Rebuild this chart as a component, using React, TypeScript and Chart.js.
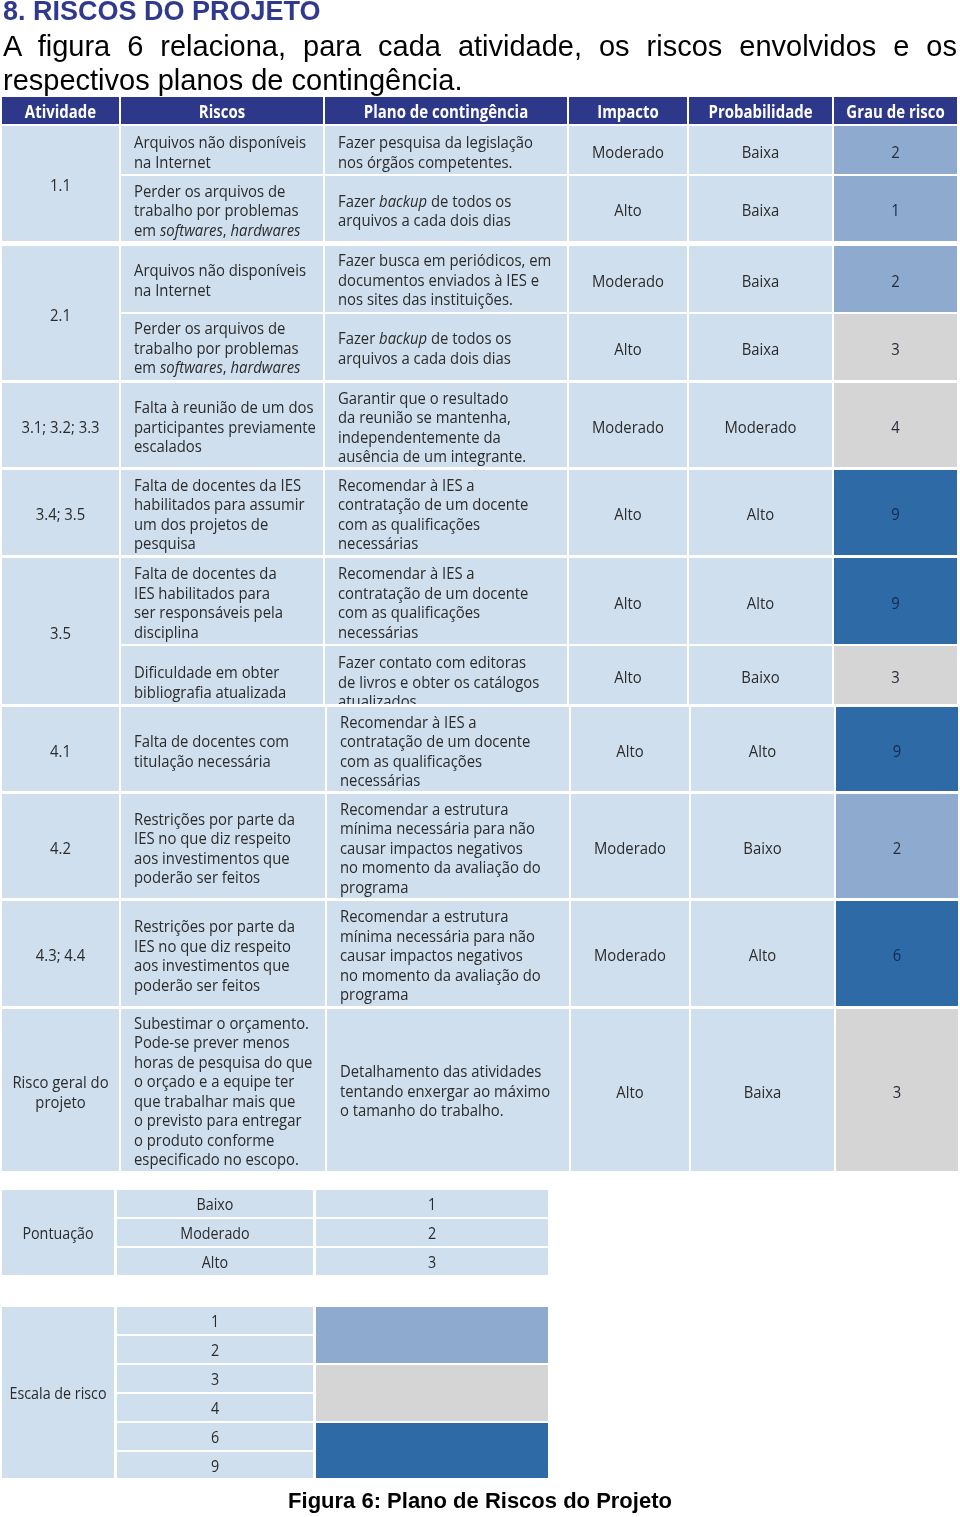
import React, { useEffect, useRef } from "react";
import { Chart, registerables } from "chart.js";

Chart.register(...registerables);

// ---------------- DATA ----------------
const headers = ["Atividade", "Riscos", "Plano de contingência", "Impacto", "Probabilidade", "Grau de risco"];

const activities = ["1.1", "2.1", "3.1; 3.2; 3.3", "3.4; 3.5", "3.5", "4.1", "4.2", "4.3; 4.4", "Risco geral do\nprojeto"];
const risksPerActivity = [2, 2, 1, 1, 2, 1, 1, 1, 1];

const risks = [
  "Arquivos não disponíveis\nna Internet",
  "Perder os arquivos de\ntrabalho por problemas\nem _softwares_, _hardwares_",
  "Arquivos não disponíveis\nna Internet",
  "Perder os arquivos de\ntrabalho por problemas\nem _softwares_, _hardwares_",
  "Falta à reunião de um dos\nparticipantes previamente\nescalados",
  "Falta de docentes da IES\nhabilitados para assumir\num dos projetos de\npesquisa",
  "Falta de docentes da\nIES habilitados para\nser responsáveis pela\ndisciplina",
  "Dificuldade em obter\nbibliografia atualizada",
  "Falta de docentes com\ntitulação necessária",
  "Restrições por parte da\nIES no que diz respeito\naos investimentos que\npoderão ser feitos",
  "Restrições por parte da\nIES no que diz respeito\naos investimentos que\npoderão ser feitos",
  "Subestimar o orçamento.\nPode-se prever menos\nhoras de pesquisa do que\no orçado e a equipe ter\nque trabalhar mais que\no previsto para entregar\no produto conforme\nespecificado no escopo.",
];

const plans = [
  "Fazer pesquisa da legislação\nnos órgãos competentes.",
  "Fazer _backup_ de todos os\narquivos a cada dois dias",
  "Fazer busca em periódicos, em\ndocumentos enviados à IES e\nnos sites das instituições.",
  "Fazer _backup_ de todos os\narquivos a cada dois dias",
  "Garantir que o resultado\nda reunião se mantenha,\nindependentemente da\nausência de um integrante.",
  "Recomendar à IES a\ncontratação de um docente\ncom as qualificações\nnecessárias",
  "Recomendar à IES a\ncontratação de um docente\ncom as qualificações\nnecessárias",
  "Fazer contato com editoras\nde livros e obter os catálogos\natualizados",
  "Recomendar à IES a\ncontratação de um docente\ncom as qualificações\nnecessárias",
  "Recomendar a estrutura\nmínima necessária para não\ncausar impactos negativos\nno momento da avaliação do\nprograma",
  "Recomendar a estrutura\nmínima necessária para não\ncausar impactos negativos\nno momento da avaliação do\nprograma",
  "Detalhamento das atividades\ntentando enxergar ao máximo\no tamanho do trabalho.",
];

const impacts = ["Moderado", "Alto", "Moderado", "Alto", "Moderado", "Alto", "Alto", "Alto", "Alto", "Moderado", "Moderado", "Alto"];
const probabilities = ["Baixa", "Baixa", "Baixa", "Baixa", "Moderado", "Alto", "Alto", "Baixo", "Alto", "Baixo", "Alto", "Baixa"];
const riskGrades = [2, 1, 2, 3, 4, 9, 9, 3, 9, 2, 6, 3];

const scoreTitle = "Pontuação";
const scoreLabels = ["Baixo", "Moderado", "Alto"];
const scoreValues = [1, 2, 3];

const scaleTitle = "Escala de risco";
const scaleValues = [1, 2, 3, 4, 6, 9];

// ---------------- LAYOUT (page coordinates) ----------------
const COLS = [
  [2, 119],
  [121, 323],
  [325, 567],
  [569, 687],
  [689, 832],
  [834, 957],
];
const LOWER_FROM = 8; // sub-rows from this index are shifted slightly right
const LOWER_SHIFT = 2;
const HEADER_Y = [97, 124];
const SUBROW_Y = [
  [126, 174],
  [176, 241],
  [246, 312],
  [314, 380],
  [383, 467],
  [470, 555],
  [558, 644],
  [646, 704],
  [707, 791],
  [794, 898],
  [901, 1006],
  [1009, 1171],
];
const SUBROW_TEXT_DY = [2, 2, 1, 1, 2, 1.5, 1.5, 7, 2, 2, 2, 1];
const SMALL_COLS = [
  [2, 114],
  [117, 313],
  [316, 548],
];
const SCORE_ROWS = [
  [1190, 1217],
  [1219, 1246],
  [1248, 1275],
];
const SCALE_ROWS = [
  [1307, 1334],
  [1336, 1363],
  [1365, 1392],
  [1394, 1421],
  [1423, 1450],
  [1452, 1478],
];

// ---------------- STYLE ----------------
const HEADER_BG = "#2d388b";
const CELL_BG = "#d0dfee";
const TEXT = "#2b2b2b";
const FONT_FAMILY = "'Open Sans', 'Noto Sans', sans-serif";
const BODY_SIZE = 16.5;
const LINE_H = 19.5;

function gradeColor(g: number) {
  if (g <= 2) return "#8eaacf";
  if (g <= 4) return "#d5d5d5";
  return "#2e6aa5";
}
function gradeTextColor(g: number) {
  return g >= 6 ? "#122a52" : "#262c3e";
}

type Seg = { t: string; it: boolean };
function parseLine(line: string): Seg[] {
  const parts = line.split(/(_[^_]+_)/).filter((p) => p.length);
  return parts.map((p) => (p.startsWith("_") && p.endsWith("_") ? { t: p.slice(1, -1), it: true } : { t: p, it: false }));
}

const tablePlugin = {
  id: "riskTable",
  afterDraw(chart: any) {
    const ctx: CanvasRenderingContext2D = chart.ctx;
    const xs = chart.scales.x;
    const ys = chart.scales.y;
    const X = (v: number) => xs.getPixelForValue(v);
    const Y = (v: number) => ys.getPixelForValue(v);

    const rect = (x0: number, y0: number, x1: number, y1: number, color: string) => {
      ctx.fillStyle = color;
      ctx.fillRect(X(x0), Y(y0), X(x1) - X(x0), Y(y1) - Y(y0));
    };

    const fontOf = (weight: string, italic: boolean, size: number) =>
      `${italic ? "italic " : ""}${weight} ${size}px ${FONT_FAMILY}`;

    const calib = (weight: string, size: number, ref: string, target: number) => {
      ctx.font = fontOf(weight, false, size);
      return target / ctx.measureText(ref).width;
    };

    const bodySx = calib("normal", BODY_SIZE, "Arquivos não disponíveis", 172);
    const headSx = calib("bold", 17, "Probabilidade", 104);
    const smallSx = calib("normal", BODY_SIZE, "Escala de risco", 97);

    const drawText = (
      text: string,
      x: number,
      cy: number,
      align: "left" | "center",
      opt: { weight?: string; size?: number; sx: number; color: string; clip?: number[] }
    ) => {
      const weight = opt.weight || "normal";
      const size = opt.size || BODY_SIZE;
      const capH = size * 0.714;
      const lines = text.split("\n");
      const n = lines.length;
      ctx.save();
      if (opt.clip) {
        const [cx0, cy0, cx1, cy1] = opt.clip;
        ctx.beginPath();
        ctx.rect(X(cx0), Y(cy0), X(cx1) - X(cx0), Y(cy1) - Y(cy0));
        ctx.clip();
      }
      ctx.fillStyle = opt.color;
      ctx.textBaseline = "alphabetic";
      ctx.textAlign = "left";
      lines.forEach((line, i) => {
        const segs = parseLine(line);
        let w = 0;
        const widths = segs.map((s) => {
          ctx.font = fontOf(weight, s.it, size);
          const m = ctx.measureText(s.t).width;
          w += m;
          return m;
        });
        const base = cy + (i - (n - 1) / 2) * LINE_H + capH / 2;
        const px = X(x);
        const startX = align === "center" ? px - (w * opt.sx) / 2 : px;
        ctx.save();
        ctx.translate(startX, Y(base));
        ctx.scale(opt.sx, 1);
        let off = 0;
        segs.forEach((s, k) => {
          ctx.font = fontOf(weight, s.it, size);
          ctx.fillText(s.t, off, 0);
          off += widths[k];
        });
        ctx.restore();
      });
      ctx.restore();
    };

    const colsFor = (row: number) =>
      COLS.map(([a, b], ci) => {
        if (row < LOWER_FROM) return [a, b];
        const na = ci >= 2 ? a + LOWER_SHIFT : a;
        const nb = ci >= 1 ? b + LOWER_SHIFT : b;
        return [na, ci === 5 ? b + 1 : nb];
      });

    // Header
    COLS.forEach(([a, b], ci) => {
      rect(a, HEADER_Y[0], b, HEADER_Y[1], HEADER_BG);
      drawText(headers[ci], (a + b) / 2, (HEADER_Y[0] + HEADER_Y[1]) / 2 + 1, "center", {
        weight: "bold",
        size: 17,
        sx: headSx,
        color: "#ffffff",
      });
    });

    // Body rows
    let r = 0;
    activities.forEach((act, ai) => {
      const count = risksPerActivity[ai];
      const top = SUBROW_Y[r][0];
      const bottom = SUBROW_Y[r + count - 1][1];
      const cols0 = colsFor(r);
      rect(cols0[0][0], top, cols0[0][1], bottom, CELL_BG);
      drawText(act, (cols0[0][0] + cols0[0][1]) / 2, (top + bottom) / 2 + 2, "center", { sx: bodySx, color: TEXT });
      for (let k = 0; k < count; k++) {
        const row = r + k;
        const [y0, y1] = SUBROW_Y[row];
        const cy = (y0 + y1) / 2;
        const ty = cy + SUBROW_TEXT_DY[row];
        const cols = colsFor(row);
        for (let ci = 1; ci < 6; ci++) {
          const [a, b] = cols[ci];
          rect(a, y0, b, y1, ci === 5 ? gradeColor(riskGrades[row]) : CELL_BG);
        }
        drawText(risks[row], cols[1][0] + 13, ty, "left", { sx: bodySx, color: TEXT, clip: [cols[1][0], y0, cols[1][1], y1] });
        drawText(plans[row], cols[2][0] + 13, ty, "left", { sx: bodySx, color: TEXT, clip: [cols[2][0], y0, cols[2][1], y1] });
        drawText(impacts[row], (cols[3][0] + cols[3][1]) / 2, cy + 2, "center", { sx: bodySx, color: TEXT });
        drawText(probabilities[row], (cols[4][0] + cols[4][1]) / 2, cy + 2, "center", { sx: bodySx, color: TEXT });
        drawText(String(riskGrades[row]), (cols[5][0] + cols[5][1]) / 2, cy + 2, "center", {
          sx: bodySx,
          color: gradeTextColor(riskGrades[row]),
        });
      }
      r += count;
    });

    // Pontuação table
    {
      const top = SCORE_ROWS[0][0];
      const bottom = SCORE_ROWS[SCORE_ROWS.length - 1][1];
      rect(SMALL_COLS[0][0], top, SMALL_COLS[0][1], bottom, CELL_BG);
      drawText(scoreTitle, (SMALL_COLS[0][0] + SMALL_COLS[0][1]) / 2, (top + bottom) / 2 + 1, "center", { sx: smallSx, color: TEXT });
      scoreLabels.forEach((lab, i) => {
        const [y0, y1] = SCORE_ROWS[i];
        const cy = (y0 + y1) / 2 + 1;
        rect(SMALL_COLS[1][0], y0, SMALL_COLS[1][1], y1, CELL_BG);
        rect(SMALL_COLS[2][0], y0, SMALL_COLS[2][1], y1, CELL_BG);
        drawText(lab, (SMALL_COLS[1][0] + SMALL_COLS[1][1]) / 2, cy, "center", { sx: smallSx, color: TEXT });
        drawText(String(scoreValues[i]), (SMALL_COLS[2][0] + SMALL_COLS[2][1]) / 2, cy, "center", { sx: smallSx, color: TEXT });
      });
    }

    // Escala de risco table
    {
      const top = SCALE_ROWS[0][0];
      const bottom = SCALE_ROWS[SCALE_ROWS.length - 1][1];
      rect(SMALL_COLS[0][0], top, SMALL_COLS[0][1], bottom, CELL_BG);
      drawText(scaleTitle, (SMALL_COLS[0][0] + SMALL_COLS[0][1]) / 2, (top + bottom) / 2 + 1, "center", { sx: smallSx, color: TEXT });
      scaleValues.forEach((v, i) => {
        const [y0, y1] = SCALE_ROWS[i];
        const cy = (y0 + y1) / 2 + 1;
        rect(SMALL_COLS[1][0], y0, SMALL_COLS[1][1], y1, CELL_BG);
        const next = scaleValues[i + 1];
        const joinNext = next !== undefined && gradeColor(next) === gradeColor(v);
        const yEnd = joinNext ? SCALE_ROWS[i + 1][0] : y1;
        rect(SMALL_COLS[2][0], y0, SMALL_COLS[2][1], yEnd, gradeColor(v));
        drawText(String(v), (SMALL_COLS[1][0] + SMALL_COLS[1][1]) / 2, cy, "center", { sx: smallSx, color: TEXT });
      });
    }
  },
};

export default function App() {
  const canvasRef = useRef<HTMLCanvasElement | null>(null);

  useEffect(() => {
    const canvas = canvasRef.current;
    if (!canvas) return;
    const chart = new Chart(canvas, {
      type: "scatter",
      data: { datasets: [{ data: [], pointRadius: 0 }] },
      options: {
        animation: false,
        responsive: false,
        devicePixelRatio: 1,
        events: [],
        layout: { padding: 0 },
        plugins: { legend: { display: false }, tooltip: { enabled: false } },
        scales: {
          x: { type: "linear", min: 0, max: 960, display: false },
          y: { type: "linear", min: 0, max: 1517, reverse: true, display: false },
        },
      },
      plugins: [tablePlugin],
    } as any);
    return () => chart.destroy();
  }, []);

  const arial = "'Liberation Sans', Arial, Helvetica, sans-serif";

  return (
    <div style={{ position: "absolute", left: 0, top: 0, width: 960, height: 1517, background: "#ffffff", overflow: "hidden" }}>
      <canvas ref={canvasRef} width={960} height={1517} style={{ position: "absolute", left: 0, top: 0, display: "block" }} />
      <div
        style={{
          position: "absolute",
          left: 3,
          top: -2,
          fontFamily: arial,
          fontWeight: "bold",
          fontSize: 27,
          lineHeight: "27px",
          color: "#2f3a8f",
          whiteSpace: "nowrap",
        }}
      >
        8. RISCOS DO PROJETO
      </div>
      <div
        style={{
          position: "absolute",
          left: 3,
          top: 29,
          width: 954,
          fontFamily: arial,
          fontSize: 29,
          lineHeight: "34px",
          color: "#000000",
          textAlign: "justify",
        }}
      >
        A figura 6 relaciona, para cada atividade, os riscos envolvidos e os respectivos planos de contingência.
      </div>
      <div
        style={{
          position: "absolute",
          left: 0,
          top: 1490,
          width: 960,
          textAlign: "center",
          fontFamily: arial,
          fontWeight: "bold",
          fontSize: 22,
          lineHeight: "22px",
          color: "#000000",
        }}
      >
        Figura 6: Plano de Riscos do Projeto
      </div>
    </div>
  );
}
